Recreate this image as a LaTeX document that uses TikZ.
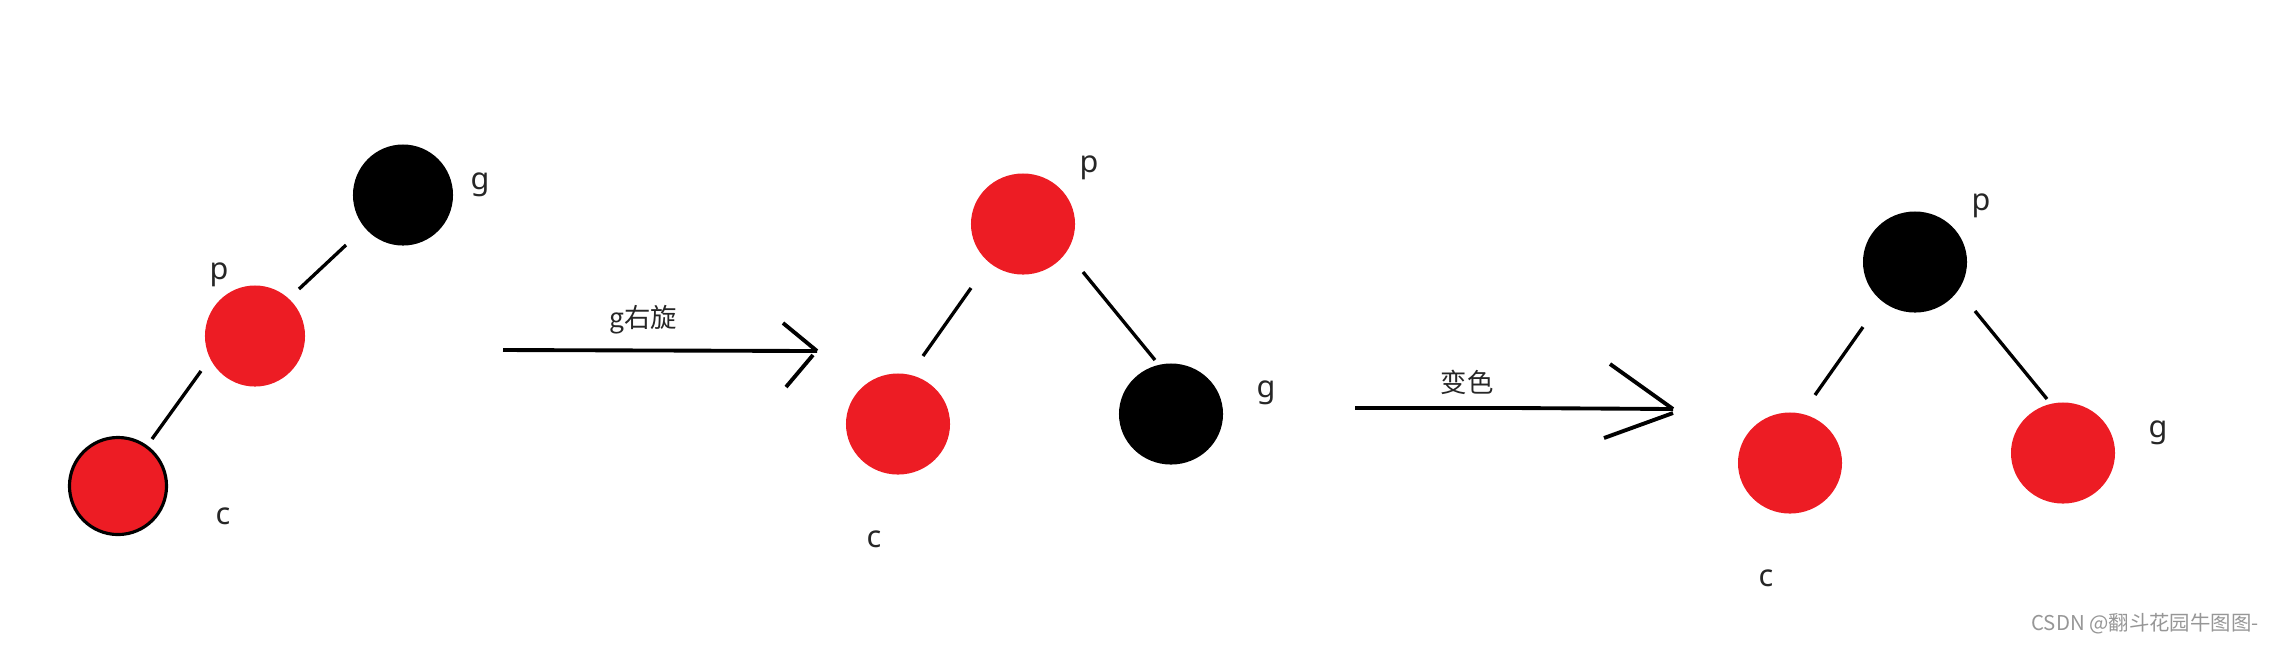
\documentclass[tikz,border=0pt]{standalone}
\usepackage{fontspec}
\setmainfont{Noto Sans}
\newfontfamily\cjk{Noto Sans CJK SC}
\definecolor{pred}{RGB}{237,28,36}
\definecolor{wmgray}{RGB}{150,150,150}
\usetikzlibrary{calc,shapes.geometric}
\begin{document}
\begin{tikzpicture}[x=0.01cm,y=-0.01cm,
  rbnode/.style={ellipse, minimum width=1.04cm, minimum height=1.01cm, inner sep=0pt, draw=none},
  smallnode/.style={minimum width=1.0cm, minimum height=1.01cm},
  rednode/.style={rbnode, fill=pred},
  blacknode/.style={rbnode, fill=black},
  edge/.style={line width=0.95pt},
  lbl/.style={font=\fontsize{8.7}{10}\selectfont, inner sep=0pt, text=black!85},
  cjklbl/.style={font=\cjk\fontsize{7.5}{9}\selectfont, inner sep=0pt, text=black!85},
  arrowline/.style={line width=1.1pt}]
\useasboundingbox (0,0) rectangle (2269,644);

% ---- tree 1 ----
\node[blacknode, smallnode] (g1) at (403,195) {};
\node[rednode, smallnode] (p1) at (255,336) {};
\node[rednode, draw=black, line width=0.9pt, minimum width=0.97cm, minimum height=0.97cm] (c1) at (118,486) {};
\node[lbl] (g1l) at (480,185) {g};
\node[lbl] (p1l) at (219,275) {p};
\node[lbl] (c1l) at (223,516) {c};
\draw[edge] ([shift={(44,-47)}]p1.center) -- ([shift={(-57,50)}]g1.center);
\draw[edge] ([shift={(-54,35)}]p1.center) -- ([shift={(34,-47)}]c1.center);

% ---- arrow 1 ----
\coordinate (a1s) at (503,350);
\coordinate (a1e) at (817,351);
\draw[arrowline] (a1s) -- (a1e);
\draw[arrowline] (a1e) -- ++(-34,-28);
\draw[arrowline] ([shift={(-4,4)}]a1e) -- ++(-27,32);
\node[cjklbl] (t1) at (643,320) {g右旋};

% ---- tree 2 ----
\node[rednode] (p2) at (1023,224) {};
\node[rednode] (c2) at (898,424) {};
\node[blacknode] (g2) at (1171,414) {};
\node[lbl] (p2l) at (1089,168) {p};
\node[lbl] (c2l) at (874,539) {c};
\node[lbl] (g2l) at (1266,393) {g};
\draw[edge] ([shift={(-52,64)}]p2.center) -- ([shift={(25,-68)}]c2.center);
\draw[edge] ([shift={(60,48)}]p2.center) -- ([shift={(-16,-54)}]g2.center);

% ---- arrow 2 ----
\coordinate (a2s) at (1355,408);
\coordinate (a2m) at (1515,408);
\coordinate (a2e) at (1673,409);
\draw[arrowline] (a2s) -- (a2m) -- (a2e);
\draw[arrowline] (a2e) -- ++(-63,-45);
\draw[arrowline] ([shift={(0,4)}]a2e) -- ++(-69,25);
\node[cjklbl] (t2) at (1467,382) {变色};

% ---- tree 3 ----
\node[blacknode] (p3) at (1915,262) {};
\node[rednode] (c3) at (1790,463) {};
\node[rednode] (g3) at (2063,453) {};
\node[lbl] (p3l) at (1981,206) {p};
\node[lbl] (c3l) at (1766,578) {c};
\node[lbl] (g3l) at (2158,433) {g};
\draw[edge] ([shift={(-52,65)}]p3.center) -- ([shift={(25,-68)}]c3.center);
\draw[edge] ([shift={(60,49)}]p3.center) -- ([shift={(-16,-54)}]g3.center);

% ---- watermark ----
\node[font=\cjk\fontsize{5.8}{7}\selectfont, text=wmgray, inner sep=0pt] (wm) at (2145,624) {CSDN @翻斗花园牛图图-};
\end{tikzpicture}
\end{document}
